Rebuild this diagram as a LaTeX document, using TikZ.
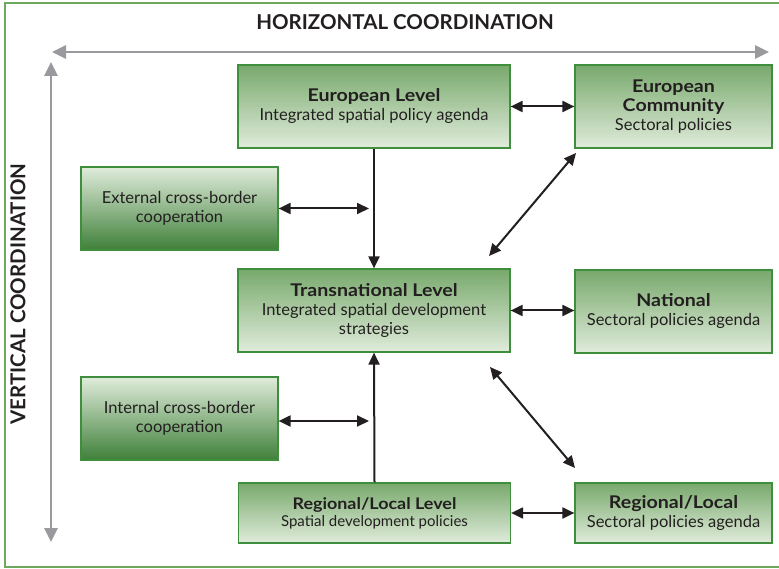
\documentclass[tikz,border=0pt]{standalone}
\usepackage{fontspec}
\setmainfont{Lato}
\newfontfamily\titlefont{Lato}[FakeStretch=1.12]
\usetikzlibrary{arrows.meta,positioning}
\definecolor{boxdark}{HTML}{78A96C}
\definecolor{boxlight}{HTML}{E0ECDB}
\definecolor{boxline}{HTML}{3E8E3E}
\definecolor{leftdark}{HTML}{3F8039}
\definecolor{axisgray}{HTML}{9A9A9E}
\definecolor{framegreen}{HTML}{6EA85F}
\definecolor{ink}{HTML}{231F20}
\newcommand{\boxhead}[1]{{\titlefont\bfseries\fontsize{17.5}{19}\selectfont #1}}

\begin{document}
\begin{tikzpicture}[x=1pt,y=-1pt,
  box/.style={draw=boxline,line width=1.2pt,top color=boxdark,bottom color=boxlight,align=center,text=ink,inner sep=2pt,minimum height=83pt,font=\fontsize{16.5}{19}\selectfont},
  wide/.style={box,minimum width=272pt},
  side/.style={box,minimum width=197pt},
  coop/.style={side,top color=boxlight,bottom color=leftdark},
  link/.style={{Triangle[length=12pt,width=11pt]}-{Triangle[length=12pt,width=11pt]},line width=2pt,ink},
  down/.style={-{Triangle[length=12pt,width=11pt]},line width=2pt,ink},
  axis/.style={{Triangle[length=14pt,width=13pt]}-{Triangle[length=14pt,width=13pt]},line width=2.8pt,axisgray},
  heading/.style={text=ink,font=\bfseries\fontsize{20.5}{24}\selectfont}]
\useasboundingbox (0,0) rectangle (779,569);
\draw[framegreen,line width=1.2pt] (5,3) rectangle (790,567);

% axes
\node[heading] (hz) at (405,22) {HORIZONTAL COORDINATION};
\node[heading,rotate=90] (vt) at (18,294) {VERTICAL COORDINATION};
\coordinate (hl) at (52,52);
\coordinate (hr) at (769,52);
\coordinate (vtop) at (51,62);
\coordinate (vbot) at (51,542);
\draw[axis] (hl) -- (hr);
\draw[axis] (vtop) -- (vbot);

% levels
\node[wide] (eu) at (374,106.5) {\boxhead{European Level}\\Integrated spatial policy agenda};
\node[side] (ec) at (673.5,106.5) {\boxhead{European}\\\boxhead{Community}\\Sectoral policies};
\node[coop] (ext) at (179.5,208.5) {External cross-border\\cooperation};
\node[wide] (trans) at (374,310.5) {\boxhead{Transnational Level}\\Integrated spatial development\\strategies};
\node[side] (nat) at (673.5,311.5) {\boxhead{National}\\Sectoral policies agenda};
\node[coop] (int) at (179.5,418.5) {Internal cross-border\\cooperation};
\node[wide,minimum height=60pt,font=\fontsize{15}{17}\selectfont] (reg) at (374.5,513) {{\titlefont\bfseries\fontsize{16}{17}\selectfont Regional/Local Level}\\Spatial development policies};
\node[side,minimum height=60pt] (regs) at (673.5,513) {\boxhead{Regional/Local}\\Sectoral policies agenda};

\coordinate (extend) at (369,208.5);
\coordinate (intend) at (369,421);
\coordinate (d1a) at (489,256);
\coordinate (d1b) at (576,153);
\coordinate (d2a) at (490,367);
\coordinate (d2b) at (575,468);

\draw[down] (eu.south) -- (trans.north);
\draw[down] (reg.north) -- (trans.south);
\draw[link] (ext.east) -- (extend);
\draw[link] (int.east |- intend) -- (intend);
\draw[link] (eu.east) -- (ec.west);
\draw[link] (trans.east) -- (trans.east -| nat.west);
\draw[link] (reg.east) -- (regs.west);
\draw[link] (d1a) -- (d1b);
\draw[link] (d2a) -- (d2b);
\end{tikzpicture}
\end{document}
